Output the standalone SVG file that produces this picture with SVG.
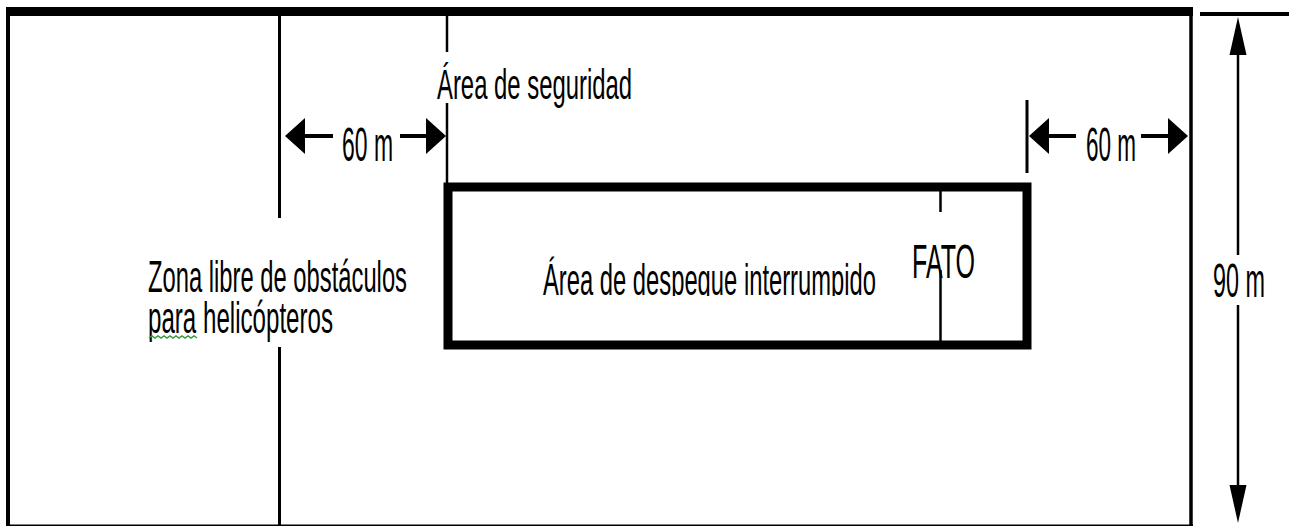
<svg xmlns="http://www.w3.org/2000/svg" width="1295" height="526" viewBox="0 0 1295 526">
  <style>
    .t { font-family: "Liberation Sans", Arial, sans-serif; fill: #000; }
    .ln { stroke: #000; fill: none; }
    .dim { stroke: #000; stroke-width: 4; fill: none; }
    .vdim { stroke: #000; stroke-width: 2.5; fill: none; }
  </style>
  <defs>
    <polygon id="ahH" points="0,0 20,-18 20,18" fill="#000"/>
    <polygon id="ahV" points="0,0 -8.5,38 8.5,38" fill="#000"/>
    <clipPath id="clipInner">
      <rect x="530" y="240" width="360" height="56"/>
    </clipPath>
  </defs>
  <rect width="1295" height="526" fill="#fff"/>

  <g id="outer-frame">
    <line class="ln" x1="6" y1="11.5" x2="1193" y2="11.5" stroke-width="9" stroke="#1a1a1a"/>
    <line class="ln" x1="8" y1="11" x2="8" y2="526" stroke-width="4" stroke="#222"/>
    <line class="ln" x1="1191" y1="11" x2="1191" y2="526" stroke-width="3.5" stroke="#222"/>
    <line class="ln" x1="6" y1="525.5" x2="1193" y2="525.5" stroke-width="2" stroke="#333"/>
  </g>

  <g id="obstacle-zone">
    <line class="ln" x1="279.5" y1="16" x2="279.5" y2="218" stroke-width="3" stroke="#222"/>
    <line class="ln" x1="279.5" y1="347" x2="279.5" y2="526" stroke-width="3" stroke="#222"/>
    <text class="t" x="148" y="292" font-size="44" textLength="259" lengthAdjust="spacingAndGlyphs">Zona libre de obstáculos</text>
    <text class="t" x="148" y="333" font-size="44" textLength="185" lengthAdjust="spacingAndGlyphs">para helicópteros</text>
    <path d="M149 338 l3 -2 l3 2 l3 -2 l3 2 l3 -2 l3 2 l3 -2 l3 2 l3 -2 l3 2 l3 -2 l3 2 l3 -2 l3 2 l3 -2 l3 2" fill="none" stroke="#3a9a3a" stroke-width="1.5"/>
  </g>

  <g id="safety-area">
    <line class="ln" x1="447" y1="16" x2="447" y2="52" stroke-width="2.5"/>
    <line class="ln" x1="447" y1="103" x2="447" y2="183" stroke-width="2.5"/>
    <line class="ln" x1="1027" y1="100" x2="1027" y2="173" stroke-width="3"/>
    <text class="t" x="437" y="99" font-size="42" textLength="195" lengthAdjust="spacingAndGlyphs">Área de seguridad</text>
  </g>

  <g id="fato-box">
    <rect x="448" y="187" width="579" height="158" fill="none" stroke="#000" stroke-width="9"/>
    <line class="ln" x1="940.5" y1="191" x2="940.5" y2="212" stroke-width="2.5"/>
    <line class="ln" x1="940.5" y1="270" x2="940.5" y2="341" stroke-width="2.5"/>
    <text class="t" x="543" y="295" font-size="44" textLength="333" lengthAdjust="spacingAndGlyphs" clip-path="url(#clipInner)">Área de despegue interrumpido</text>
    <text class="t" x="912" y="278" font-size="48" textLength="63" lengthAdjust="spacingAndGlyphs">FATO</text>
  </g>

  <g id="dimensions">
    <line class="dim" x1="303" y1="136" x2="333" y2="136"/>
    <line class="dim" x1="400" y1="136" x2="428" y2="136"/>
    <use href="#ahH" transform="translate(285,136)"/>
    <use href="#ahH" transform="translate(446,136) scale(-1,1)"/>
    <text class="t" x="342" y="161" font-size="48" textLength="51" lengthAdjust="spacingAndGlyphs">60 m</text>

    <line class="dim" x1="1047" y1="136" x2="1076" y2="136"/>
    <line class="dim" x1="1141" y1="136" x2="1170" y2="136"/>
    <use href="#ahH" transform="translate(1029,136)"/>
    <use href="#ahH" transform="translate(1188,136) scale(-1,1)"/>
    <text class="t" x="1086" y="161" font-size="48" textLength="50" lengthAdjust="spacingAndGlyphs">60 m</text>

    <line class="dim" x1="1200" y1="14" x2="1289" y2="14"/>
    <line class="vdim" x1="1238" y1="53" x2="1238" y2="255"/>
    <line class="vdim" x1="1238" y1="305" x2="1238" y2="487"/>
    <use href="#ahV" transform="translate(1238,17)"/>
    <use href="#ahV" transform="translate(1238,523) scale(1,-1)"/>
    <text class="t" x="1213" y="297" font-size="48" textLength="52" lengthAdjust="spacingAndGlyphs">90 m</text>
  </g>
</svg>
